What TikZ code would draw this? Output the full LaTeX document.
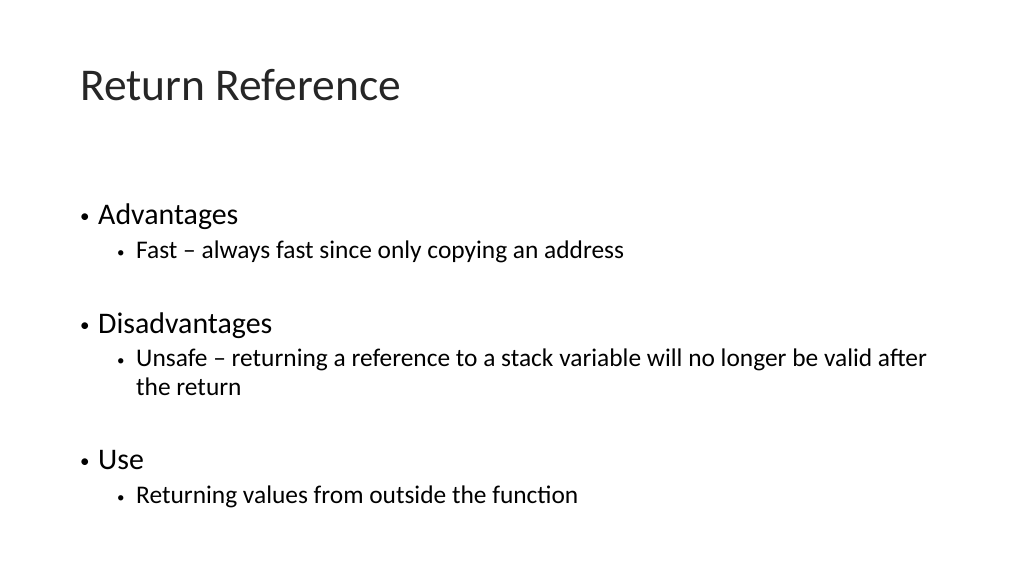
\documentclass[tikz,border=0pt]{standalone}
\usepackage{fontspec}
\setmainfont{Carlito}
\tikzset{
  title/.style={anchor=base west, inner sep=0pt, font=\fontsize{45.5}{50}\selectfont, text=black!85},
  lvlone/.style={anchor=base west, inner sep=0pt, font=\fontsize{29.9}{32}\selectfont},
  lvltwo/.style={anchor=base west, inner sep=0pt, font=\fontsize{25.4}{29}\selectfont, align=left},
  dot/.style={anchor=base west, inner sep=0pt, font=\fontsize{19}{20}\selectfont},
}
\begin{document}
\begin{tikzpicture}[x=1pt, y=-1pt]
\useasboundingbox (0,0) rectangle (1024,576);
\node[title] (head) at (80,100) {Return Reference};

\node[dot] (bA) at (80,222) {\textbullet};
\node[lvlone] (adv) at (98,224) {Advantages};
\node[dot, font=\fontsize{15}{16}\selectfont] (bA1) at (117,257) {\textbullet};
\node[lvltwo] (fast) at (136,258) {Fast -- always fast since only copying an address};

\node[dot] (bD) at (80,331) {\textbullet};
\node[lvlone] (dis) at (98,333) {Disadvantages};
\node[dot, font=\fontsize{15}{16}\selectfont] (bD1) at (117,365) {\textbullet};
\node[lvltwo] (unsafe) at (136,395) {Unsafe -- returning a reference to a stack variable will no longer be valid after\\the return};

\node[dot] (bU) at (80,467) {\textbullet};
\node[lvlone] (use) at (98,469) {Use};
\node[dot, font=\fontsize{15}{16}\selectfont] (bU1) at (117,502) {\textbullet};
\node[lvltwo] (ret) at (136,503) {Returning values from outside the function};
\end{tikzpicture}
\end{document}
